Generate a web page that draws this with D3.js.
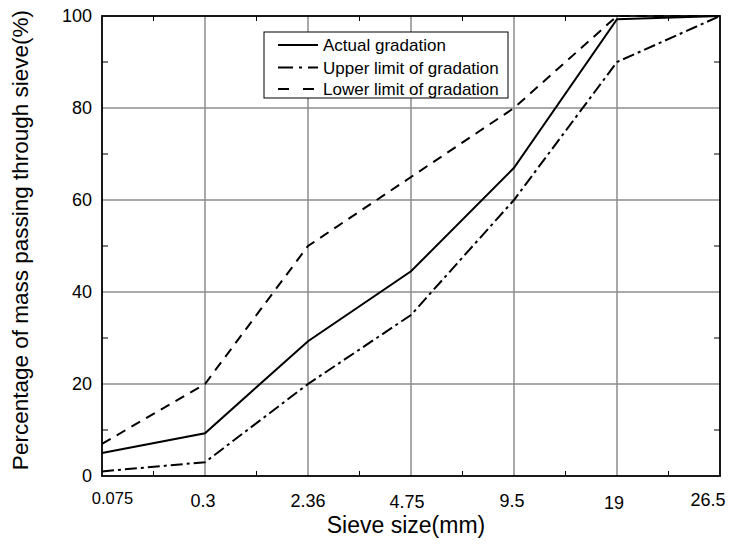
<!DOCTYPE html>
<html><head><meta charset="utf-8">
<script src="https://cdn.jsdelivr.net/npm/d3@7"></script>
<style>body{margin:0;background:#fff}svg{display:block;font-family:Arial,"Liberation Sans",sans-serif}</style>
</head><body>
<svg id="c" width="731" height="545"></svg>
<script>
const categories = ["0.075","0.3","2.36","4.75","9.5","19","26.5"];
const actual = [5, 9.3, 29.3, 44.5, 67, 99.3, 100];
const upper = [1, 3, 20, 35, 60, 90, 100];
const lower = [7, 20, 50, 65, 80, 100, 100];
const yTicks = [0,20,40,60,80,100];
const seriesNames = ["Actual gradation","Upper limit of gradation","Lower limit of gradation"];

const svg = d3.select("#c");
const L=102, R=720, T=16, B=476;
const x = d3.scalePoint().domain(categories).range([L,R]);
const y = d3.scaleLinear().domain([0,100]).range([B,T]);

// grid
svg.append("g").selectAll("line").data(categories.slice(1,-1)).join("line")
  .attr("x1",d=>x(d)).attr("x2",d=>x(d)).attr("y1",T).attr("y2",B)
  .attr("stroke","#8c8c8c").attr("stroke-width",1.5);
svg.append("g").selectAll("line").data(yTicks.slice(1,-1)).join("line")
  .attr("y1",d=>y(d)).attr("y2",d=>y(d)).attr("x1",L).attr("x2",R)
  .attr("stroke","#8c8c8c").attr("stroke-width",1.5);

// minor ticks
const step = x.step();
const xMinor = categories.slice(0,-1).map(c=>x(c)+step/2);
const tk = svg.append("g").attr("stroke","#000").attr("stroke-width",1);
xMinor.forEach(px=>{
  tk.append("line").attr("x1",px).attr("x2",px).attr("y1",B).attr("y2",B-5);
  tk.append("line").attr("x1",px).attr("x2",px).attr("y1",T).attr("y2",T+5);
});
[10,30,50,70,90].forEach(v=>{
  tk.append("line").attr("x1",L).attr("x2",L+6).attr("y1",y(v)).attr("y2",y(v));
  tk.append("line").attr("x1",R).attr("x2",R-6).attr("y1",y(v)).attr("y2",y(v));
});

// frame
svg.append("rect").attr("x",L).attr("y",T).attr("width",R-L).attr("height",B-T)
  .attr("fill","none").attr("stroke","#000").attr("stroke-width",1.8);

// y tick labels
svg.append("g").selectAll("text").data(yTicks).join("text")
  .attr("x",L-10).attr("y",d=>y(d)).attr("dy","0.36em").attr("text-anchor","end")
  .attr("font-size",18).text(d=>d);

// x tick labels (small nudges as in the source)
const xOff = {"0.075":10.5,"0.3":-2,"4.75":-4,"9.5":-2,"19":-3,"26.5":-12};
const yOff = {"0.075":-3,"4.75":1,"19":2,"26.5":-1};
const fs = {"0.075":16.5};
svg.append("g").selectAll("text").data(categories).join("text")
  .attr("x",d=>x(d)+(xOff[d]||0)).attr("y",d=>507+(yOff[d]||0)).attr("text-anchor","middle")
  .attr("font-size",d=>fs[d]||18).text(d=>d);

// titles
svg.append("text").attr("x",406).attr("y",533).attr("text-anchor","middle")
  .attr("font-size",23).text("Sieve size(mm)");
svg.append("text").attr("transform","translate(28,240) rotate(-90)").attr("text-anchor","middle")
  .attr("font-size",22.5).text("Percentage of mass passing through sieve(%)");

// lines
const line = d3.line().x((d,i)=>x(categories[i])).y(d=>y(d));
const styles = [
  {data:actual, dash:null, ldash:null},
  {data:upper, dash:"12,4,3,4", ldash:"15,6,3,6"},
  {data:lower, dash:"10,7", ldash:"11,14"}
];
styles.forEach(s=>{
  svg.append("path").datum(s.data).attr("d",line).attr("fill","none")
    .attr("stroke","#000").attr("stroke-width",2).attr("stroke-dasharray",s.dash);
});

// legend
const lg = svg.append("g");
lg.append("rect").attr("x",264).attr("y",32).attr("width",244).attr("height",66)
  .attr("fill","#fff").attr("stroke","#000").attr("stroke-width",1);
const rows=[45,67.5,89];
styles.forEach((s,i)=>{
  lg.append("line").attr("x1",278).attr("x2",318).attr("y1",rows[i]).attr("y2",rows[i])
    .attr("stroke","#000").attr("stroke-width",2).attr("stroke-dasharray",s.ldash);
  lg.append("text").attr("x",323).attr("y",rows[i]+6.3).attr("font-size",17)
    .text(seriesNames[i]);
});
</script>
</body></html>
